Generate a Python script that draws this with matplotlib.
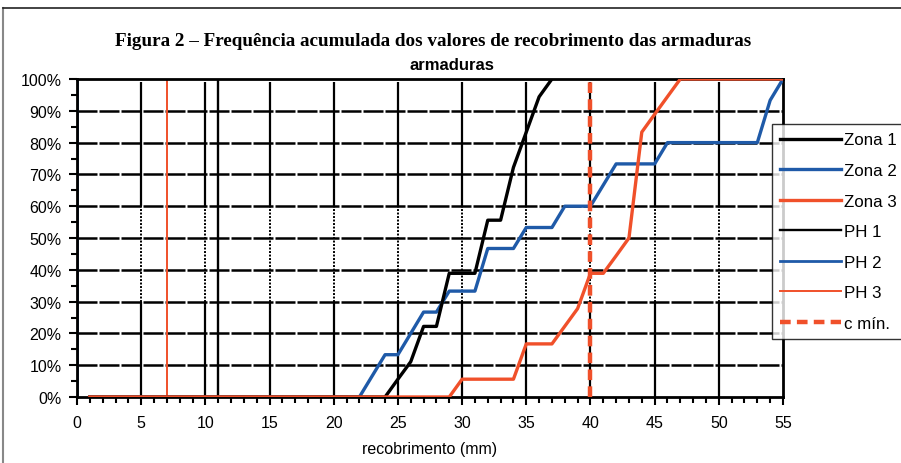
import matplotlib
matplotlib.use('Agg')
from matplotlib import pyplot as plt
from matplotlib.lines import Line2D
from matplotlib.ticker import MultipleLocator, FuncFormatter

plt.rcParams['font.family'] = ['Liberation Sans', 'DejaVu Sans']

# Zona 1 (n=18)
z1_x = [1, 24, 25, 26, 27, 28, 29, 31, 32, 33, 34, 35, 36, 37]
z1_y = [0, 0, 5.6, 11.1, 22.2, 22.2, 38.9, 38.9, 55.6, 55.6, 72.2, 83.3, 94.4, 100]

# Zona 2 (n=15)
z2_x = [1, 22, 24, 25, 27, 28, 29, 31, 32, 34, 35, 37, 38, 40, 42, 45, 46, 53, 54, 55]
z2_y = [0, 0, 13.3, 13.3, 26.7, 26.7, 33.3, 33.3, 46.7, 46.7, 53.3, 53.3, 60, 60,
        73.3, 73.3, 80, 80, 93.3, 100]

# Zona 3 (n=18)
z3_x = [1, 29, 30, 34, 35, 37, 39, 40, 41, 42, 43, 44, 45, 47, 55]
z3_y = [0, 0, 5.6, 5.6, 16.7, 16.7, 27.8, 38.9, 38.9, 44.4, 50, 83.3, 88.9, 100, 100]

# vertical reference lines
ph1_x = 11
ph2_x = 0
ph3_x = 7
cmin_x = 40

black = '#000000'
blue = '#1f5aa8'
orange = '#f0502a'

fig = plt.figure(figsize=(9.01, 4.64), dpi=100)
ax = fig.add_axes([77/901, 1-398/464, (783-77)/901, (398-80)/464])

# grid
for v in range(10, 100, 10):
    ax.axhline(v, color='black', lw=1.8, linestyle=(0, (8, 0.8)), zorder=1)
for g in range(5, 55, 5):
    ax.vlines(g, 0, 30, color='black', lw=1.6, zorder=1)
    ax.vlines(g, 30, 60, color='black', lw=1.4, linestyle=(0, (1, 0.8)), zorder=1)
    ax.vlines(g, 60, 99, color='black', lw=1.6, zorder=1)

ax.plot(z1_x, z1_y, color=black, lw=2.4, label='Zona 1', zorder=4)
ax.plot(z2_x, z2_y, color=blue, lw=2.4, label='Zona 2', zorder=3)
ax.plot(z3_x, z3_y, color=orange, lw=2.4, label='Zona 3', zorder=5)
ax.plot([ph1_x, ph1_x], [0, 100], color=black, lw=1.7, label='PH 1', zorder=2)
ax.plot([ph2_x, ph2_x], [0, 100], color=blue, lw=2.0, label='PH 2', zorder=2)
ax.plot([ph3_x, ph3_x], [0, 100], color=orange, lw=1.4, label='PH 3', zorder=2)
ax.plot([cmin_x, cmin_x], [0, 100], color=orange, lw=3.2, dashes=(2.4, 1.4),
        label='c mín.', zorder=6)

ax.set_xlim(0, 55)
ax.set_ylim(0, 100)
ax.xaxis.set_major_locator(MultipleLocator(5))
ax.xaxis.set_minor_locator(MultipleLocator(1))
ax.yaxis.set_major_locator(MultipleLocator(10))
ax.yaxis.set_minor_locator(MultipleLocator(5))
ax.yaxis.set_major_formatter(FuncFormatter(lambda v, p: '%d%%' % v))
ax.tick_params(which='major', direction='out', length=6, width=1.5, labelsize=11.5,
               colors='black')
ax.tick_params(which='minor', direction='out', length=4, width=1.5)
ax.tick_params(axis='x', pad=7)
ax.tick_params(axis='y', pad=5)
for s in ax.spines.values():
    s.set_linewidth(2)
    s.set_color('black')
ax.set_xlabel('recobrimento (mm)', fontsize=11.5, labelpad=8)

fig.text(433/901, 1-42/464,
         'Figura 2 – Frequência acumulada dos valores de recobrimento das armaduras',
         family=['Liberation Serif', 'DejaVu Serif'], weight='bold', fontsize=13.8,
         ha='center', va='center')
fig.text(452/901, 1-66/464, 'armaduras', weight='bold', fontsize=12,
         ha='center', va='center')

leg = fig.legend(loc='upper left', bbox_to_anchor=(772/901, 1-125/464),
                 fontsize=12.2, frameon=True, fancybox=False, edgecolor='black',
                 handlelength=3.6, labelspacing=0.92, handletextpad=0.12,
                 borderpad=0.5, borderaxespad=0)
leg.get_frame().set_linewidth(1.0)
leg.set_zorder(10)

# page border
fig.add_artist(Line2D([3/901, 3/901], [0, 1-9/464], color='#888888', lw=1.5,
                      transform=fig.transFigure))
fig.add_artist(Line2D([3/901, 1], [1-9/464, 1-9/464], color='#222222', lw=1.2,
                      transform=fig.transFigure))

fig.savefig('out.png', dpi=100)
